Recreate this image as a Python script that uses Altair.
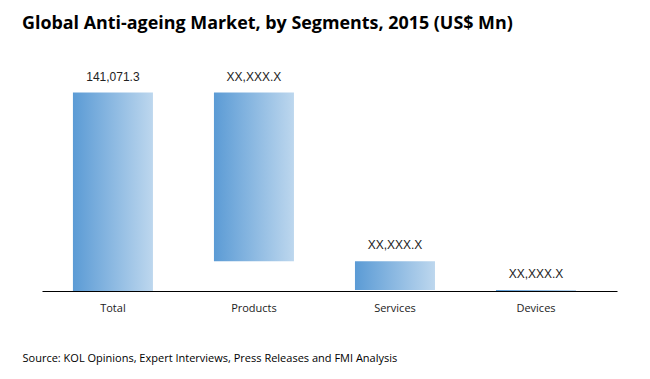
import altair as alt
import pandas as pd

categories = ["Total", "Products", "Services", "Devices"]
values = [141071.3, 120000.0, 20400.0, 650.0]
labels = ["141,071.3", "XX,XXX.X", "XX,XXX.X", "XX,XXX.X"]

# waterfall-style extents: Total from 0; segments stacked downward from the total
total = values[0]
starts, ends = [0.0], [total]
top = total
for v in values[1:]:
    ends.append(top)
    starts.append(top - v)
    top = top - v
starts[-1] = 0.0
ends[-1] = values[-1]

df = pd.DataFrame({"cat": categories, "start": starts, "end": ends, "label": labels})

grad = alt.Gradient(
    gradient="linear",
    stops=[alt.GradientStop(color="#5B9BD5", offset=0),
           alt.GradientStop(color="#BDD7EE", offset=1)],
    x1=0, x2=1, y1=0, y2=0,
)

x = alt.X("cat:N", sort=categories,
          scale=alt.Scale(paddingInner=0.4326, paddingOuter=0.255, align=0.43),
          axis=alt.Axis(title="Source: KOL Opinions, Expert Interviews, Press Releases and FMI Analysis",
                        labelAngle=0, ticks=False, domainColor="#000000", domainWidth=1.2,
                        labelFont="Open Sans", labelFontSize=11, labelColor="#222222",
                        labelPadding=11,
                        titleFont="Open Sans", titleFontSize=11, titleFontWeight="normal",
                        titleColor="#000000", titleAnchor="start", titleAlign="left",
                        titleX=-20, titleY=61))
yscale = alt.Scale(domain=[0, 160000])

bars = alt.Chart(df).mark_bar(color=grad).encode(
    x=x,
    y=alt.Y("start:Q", scale=yscale, axis=None),
    y2="end:Q",
)
text = alt.Chart(df).mark_text(baseline="bottom", dy=-9, font="Liberation Sans",
                               fontSize=12, color="#222222").encode(
    x=alt.X("cat:N", sort=categories),
    y=alt.Y("end:Q", scale=yscale),
    text="label:N",
)

chart = (bars + text).properties(
    width=575, height=225,
    autosize=alt.AutoSizeParams(type="none"),
    padding={"left": 34, "top": 58, "right": 25, "bottom": 90},
    title=alt.TitleParams(
        "Global Anti-ageing Market, by Segments, 2015 (US$ Mn)",
        anchor="start", frame="group", dx=-20, offset=33, font="Open Sans", fontSize=17.9,
        fontWeight="bold", color="#000000",
    ),
).configure_view(stroke=None)

chart.save("out.html", embed_options={"renderer": "svg", "actions": False})
